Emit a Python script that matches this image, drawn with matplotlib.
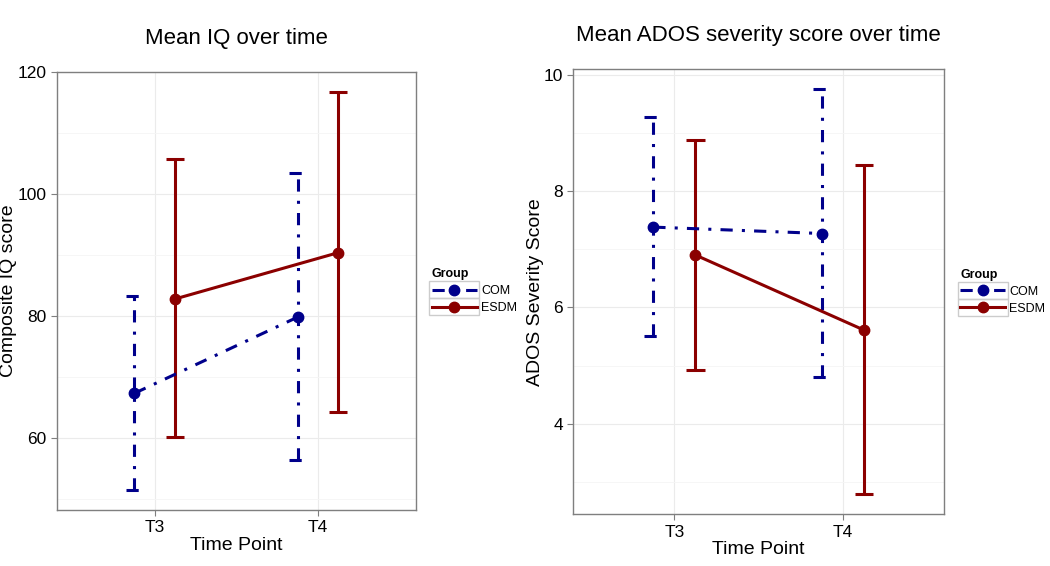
import matplotlib
matplotlib.use("Agg")
import matplotlib.pyplot as plt
from matplotlib.lines import Line2D
from matplotlib.patches import Rectangle
from matplotlib.ticker import MultipleLocator
import numpy as np

plt.rcParams['font.family'] = ['Liberation Sans', 'DejaVu Sans']

# data
time_points = ["T3", "T4"]
groups = ["COM", "ESDM"]

iq_com_mean = [67.3, 79.8]
iq_com_lo = [51.4, 56.3]
iq_com_hi = [83.2, 103.4]
iq_esdm_mean = [82.8, 90.4]
iq_esdm_lo = [60.1, 64.2]
iq_esdm_hi = [105.7, 116.8]

ados_com_mean = [7.38, 7.27]
ados_com_lo = [5.51, 4.81]
ados_com_hi = [9.27, 9.75]
ados_esdm_mean = [6.90, 5.61]
ados_esdm_lo = [4.93, 2.79]
ados_esdm_hi = [8.87, 8.45]

COLORS = {"COM": "#00008B", "ESDM": "#8B0000"}
STYLES = {"COM": (0, (4, 3, 1, 3)), "ESDM": "solid"}
OFFSETS = {"COM": -0.125, "ESDM": 0.125}
LW = 2.2
CAP = 0.055


def draw_panel(ax, series, title, ylabel, major, minor, ylab_x):
    x = np.arange(1, len(time_points) + 1)
    all_vals = []
    for g, (mean, lo, hi) in series.items():
        xs = x + OFFSETS[g]
        c, ls = COLORS[g], STYLES[g]
        ax.vlines(xs, lo, hi, colors=c, linestyles=ls, lw=LW, zorder=3)
        ax.hlines(lo, xs - CAP, xs + CAP, colors=c, linestyles=ls, lw=LW, zorder=3)
        ax.hlines(hi, xs - CAP, xs + CAP, colors=c, linestyles=ls, lw=LW, zorder=3)
        ax.plot(xs, mean, color=c, linestyle=ls, lw=LW, marker='o', ms=7.5, zorder=4)
        all_vals += list(lo) + list(hi)
    # ggplot-style 5% expansion
    lo_v, hi_v = min(all_vals), max(all_vals)
    pad = 0.05 * (hi_v - lo_v)
    ax.set_ylim(lo_v - pad, hi_v + pad)
    ax.set_xlim(0.4, len(time_points) + 0.6)
    ax.set_xticks(x)
    ax.set_xticklabels(time_points)
    ax.yaxis.set_major_locator(MultipleLocator(major))
    ax.yaxis.set_minor_locator(MultipleLocator(minor))
    ax.tick_params(axis='y', which='minor', length=0)
    ax.tick_params(which='major', direction='out', length=4, color='#7f7f7f',
                   labelsize=12.5, labelcolor='black', width=0.8)
    ax.grid(which='major', color='#ebebeb', lw=0.8)
    ax.grid(which='minor', axis='y', color='#f5f5f5', lw=0.6)
    ax.set_axisbelow(True)
    for sp in ax.spines.values():
        sp.set_color('#7f7f7f')
        sp.set_linewidth(1.0)
    ax.set_xlabel("Time Point", fontsize=14, labelpad=1)
    ax.set_ylabel(ylabel, fontsize=14)
    ax.yaxis.set_label_coords(ylab_x, 0.5)
    ax.set_title(title, fontsize=16, pad=20)

    handles = [Line2D([], [], color=COLORS[g], linestyle=STYLES[g], lw=LW,
                      marker='o', ms=7.5) for g in groups]
    leg = ax.legend(handles, groups, title="Group", loc='center left',
                    bbox_to_anchor=(1.03, 0.5), frameon=False, fontsize=9,
                    title_fontsize=9, handlelength=3.6, alignment='left',
                    borderaxespad=0, handletextpad=0.35, labelspacing=0.4)
    leg.get_title().set_fontweight('bold')
    return leg


fig = plt.figure(figsize=(10.5, 5.66), dpi=100)
ax1 = fig.add_axes([0.0543, 0.099, 0.3417, 0.7738])
ax2 = fig.add_axes([0.546, 0.0914, 0.353, 0.7866])

leg1 = draw_panel(ax1, {"COM": (iq_com_mean, iq_com_lo, iq_com_hi),
                        "ESDM": (iq_esdm_mean, iq_esdm_lo, iq_esdm_hi)},
                  "Mean IQ over time", "Composite IQ score", 20, 10, -0.111)
leg2 = draw_panel(ax2, {"COM": (ados_com_mean, ados_com_lo, ados_com_hi),
                        "ESDM": (ados_esdm_mean, ados_esdm_lo, ados_esdm_hi)},
                  "Mean ADOS severity score over time", "ADOS Severity Score", 2, 1, -0.079)

# grey key boxes like ggplot's theme_bw legend keys
fig.canvas.draw()
renderer = fig.canvas.get_renderer()
inv = fig.transFigure.inverted()
for leg in (leg1, leg2):
    for h in leg.legend_handles:
        bb = h.get_window_extent(renderer)
        cx = (bb.x0 + bb.x1) / 2
        cy = (bb.y0 + bb.y1) / 2
        (x0, y0), (x1, y1) = inv.transform([(cx - 25, cy - 8.5), (cx + 25, cy + 8.5)])
        fig.add_artist(Rectangle((x0, y0), x1 - x0, y1 - y0, transform=fig.transFigure,
                                 fill=False, edgecolor='#cccccc', lw=1, zorder=0))

fig.savefig("out.png", dpi=100)
